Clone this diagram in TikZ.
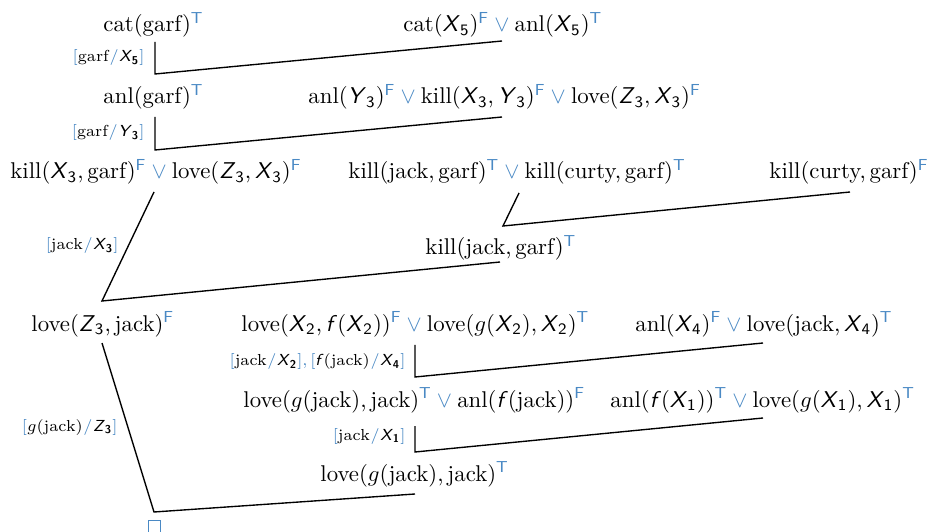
\documentclass[tikz,border=0pt]{standalone}
\usepackage{amsmath}
\definecolor{tvblue}{RGB}{74,137,196}
\newcommand{\vr}[2]{\textsf{\slshape #1}\textsubscript{\sffamily #2}}
\newcommand{\bvr}[2]{\textsf{\slshape #1}\textsubscript{\sffamily\bfseries #2}}
\newcommand{\fn}{\textsf{\slshape f}}
\newcommand{\gn}{$g$}
\newcommand{\tT}{\textsuperscript{\textcolor{tvblue}{\sffamily T}}}
\newcommand{\tF}{\textsuperscript{\textcolor{tvblue}{\sffamily F}}}
\newcommand{\orr}{\textcolor{tvblue}{$\:\vee\:$}}
\newcommand{\lb}{\textcolor{tvblue}{[}}
\newcommand{\rb}{\textcolor{tvblue}{]}}
\newcommand{\sls}{\textcolor{tvblue}{\kern0.3pt/\kern0.3pt}}
\begin{document}
\begin{tikzpicture}[x=0.4386pt,y=-0.4386pt,
  cl/.style={inner sep=0pt,anchor=base west},
  sub/.style={inner sep=0pt,anchor=base east,font=\scriptsize},
  res/.style={line width=0.6pt,line join=miter}]
\useasboundingbox (0,0) rectangle (930,532);
% clauses
\node[cl] (n1) at (103,32) {cat(garf)\tT};
\node[cl] (n2) at (403,32) {cat(\vr{X}{5})\tF\orr anl(\vr{X}{5})\tT};
\node[cl] (n3) at (103,104) {anl(garf)\tT};
\node[cl] (n4) at (308,104) {anl(\vr{Y}{3})\tF\orr kill(\vr{X}{3},\,\vr{Y}{3})\tF\orr love(\vr{Z}{3},\,\vr{X}{3})\tF};
\node[cl] (n5) at (10,179) {kill(\vr{X}{3},\,garf)\tF\orr love(\vr{Z}{3},\,\vr{X}{3})\tF};
\node[cl] (n6) at (348,179) {kill(jack,\,garf)\tT\orr kill(curty,\,garf)\tT};
\node[cl] (n7) at (769,179) {kill(curty,\,garf)\tF};
\node[cl] (n8) at (425,255) {kill(jack,\,garf)\tT};
\node[cl] (n9) at (31,331) {love(\vr{Z}{3},\,jack)\tF};
\node[cl] (n10) at (241,331) {love(\vr{X}{2},\,\fn(\vr{X}{2}))\tF\orr love(\gn(\vr{X}{2}),\,\vr{X}{2})\tT};
\node[cl] (n11) at (635,331) {anl(\vr{X}{4})\tF\orr love(jack,\,\vr{X}{4})\tT};
\node[cl] (n12) at (243,407) {love(\gn(jack),\,jack)\tT\orr anl(\fn(jack))\tF};
\node[cl] (n13) at (610,407) {anl(\fn(\vr{X}{1}))\tT\orr love(\gn(\vr{X}{1}),\,\vr{X}{1})\tT};
\node[cl] (n14) at (320,481) {love(\gn(jack),\,jack)\tT};
\node[draw=tvblue,line width=0.4pt,minimum size=5.5pt,inner sep=0pt] (n15) at (154.5,527) {};
% substitution labels
\node[sub] (l1) at (145,62) {\lb garf\sls\bvr{X}{5}\rb};
\node[sub] (l2) at (145,137) {\lb garf\sls\bvr{Y}{3}\rb};
\node[sub] (l3) at (119,250) {\lb jack\sls\bvr{X}{3}\rb};
\node[sub] (l4) at (406,366) {\lb jack\sls\bvr{X}{2}\rb\textcolor{tvblue}{,}\,\lb\fn(jack)\sls\bvr{X}{4}\rb};
\node[sub] (l5) at (406,440) {\lb jack\sls\bvr{X}{1}\rb};
\node[sub] (l6) at (118,431) {\lb\gn(jack)\sls\bvr{Z}{3}\rb};
% connector points
\coordinate (a1) at (155,42);  \coordinate (v1) at (155,74);  \coordinate (b1) at (502,41);
\coordinate (a2) at (155,117); \coordinate (v2) at (155,150); \coordinate (b2) at (502,117);
\coordinate (a3) at (154,192); \coordinate (v3) at (102,301); \coordinate (b3) at (500,262);
\coordinate (a4) at (519,193); \coordinate (v4) at (503,226); \coordinate (b4) at (850,192);
\coordinate (a5) at (415,345); \coordinate (v5) at (415,377); \coordinate (b5) at (763,343);
\coordinate (a6) at (415,426); \coordinate (v6) at (415,452); \coordinate (b6) at (763,418);
\coordinate (a7) at (102,343); \coordinate (v7) at (154,512); \coordinate (b7) at (415,494);
\draw[res] (a1) -- (v1) -- (b1);
\draw[res] (a2) -- (v2) -- (b2);
\draw[res] (a3) -- (v3) -- (b3);
\draw[res] (a4) -- (v4) -- (b4);
\draw[res] (a5) -- (v5) -- (b5);
\draw[res] (a6) -- (v6) -- (b6);
\draw[res] (a7) -- (v7) -- (b7);
\end{tikzpicture}
\end{document}
